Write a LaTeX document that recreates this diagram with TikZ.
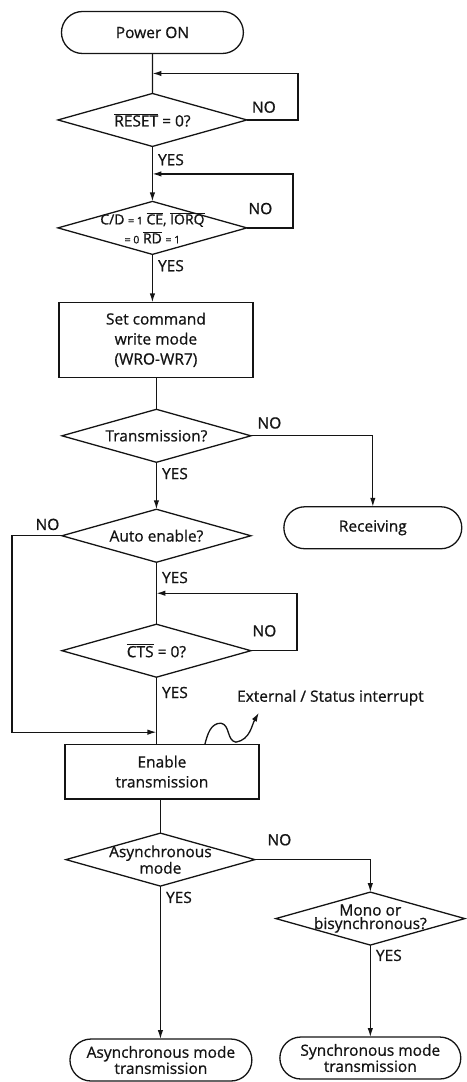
\documentclass[tikz,border=0pt]{standalone}
\usepackage{fontspec}
\setmainfont{Open Sans}[FakeBold=0.8]
\usepackage{tikz}
\usetikzlibrary{arrows.meta,positioning,calc,shapes.geometric,shapes.misc}
\usepackage{xcolor}
\definecolor{ink}{HTML}{141414}
\newcommand{\flowfont}{\fontsize{15.5}{20}\selectfont}
\newcommand{\tightfont}{\fontsize{15.5}{15}\selectfont}
\newcommand{\smallfont}{\fontsize{10.5}{12}\selectfont}
\newcommand{\notsig}[1]{$\overline{\mbox{#1}}$}
\tikzset{
  >={Latex[length=9pt,width=5.5pt]},
  every node/.style={font=\flowfont,text=ink},
  terminal/.style={draw=ink,line width=1.3pt,outer sep=0pt,rounded rectangle,minimum width=186pt,minimum height=42pt,align=center,inner sep=2pt},
  process/.style={draw=ink,line width=1.3pt,outer sep=0pt,minimum width=194pt,align=center,inner sep=3pt},
  decision/.style={draw=ink,line width=1.3pt,outer sep=0pt,diamond,minimum width=189pt,minimum height=53pt,inner sep=0pt},
  dtext/.style={align=center,inner sep=0pt,font=\tightfont},
  lbl/.style={inner sep=2pt},
  flow/.style={draw=ink,line width=1.3pt},
  arrow/.style={->,flow},
}

\begin{document}
\begin{tikzpicture}[node distance=40pt]
\useasboundingbox (0,0) rectangle (467pt,-1082.5pt);

% main column
\node[terminal] (power) at (152.5pt,-32.5pt) {Power ON};
\node[decision,below=40pt of power,
  label={[dtext,name=resetT]center:{\notsig{RESET} = 0?}}] (reset) {};
\node[decision,below=55pt of reset,
  label={[dtext,name=cdT,font=\fontsize{14}{19}\selectfont]center:{C/D {\smallfont = 1} \notsig{CE}, \notsig{IORQ}\\{\smallfont = 0} \notsig{RD} {\smallfont = 1}}}] (cd) {};
\node[process,minimum height=75pt,below=48pt of cd,xshift=3.5pt] (setmode)
{Set command\\write mode\\(WRO-WR7)};
\node[decision,below=32pt of setmode,xshift=0.5pt,
  label={[dtext,name=transT]center:Transmission?}] (trans) {};
\node[terminal,minimum width=182pt,right=33pt of trans,yshift=-92pt] (recv) {Receiving};
\node[decision,below=47pt of trans,
  label={[dtext,name=autoT]center:Auto enable?}] (auto) {};
\node[decision,below=62pt of auto,
  label={[dtext,name=ctsT]center:{\notsig{CTS} = 0?}}] (cts) {};
\node[process,minimum height=55pt,below=67pt of cts,xshift=5.5pt] (enable)
{Enable\\transmission};
\node[lbl,anchor=west] (intr) at ([xshift=-24pt,yshift=46.5pt]enable.north east)
{External / Status interrupt};
\node[decision,below=34pt of enable,xshift=-1.5pt,
  label={[dtext,name=asyncT]center:{Asynchronous\\mode}}] (async) {};
\node[decision,right=21pt of async,yshift=-59pt,
  label={[dtext,name=monoT,font=\fontsize{15.5}{13.5}\selectfont]center:{Mono or\\bisynchronous?}}] (mono) {};
\node[terminal,font=\tightfont,below=153pt of async,xshift=0.5pt] (asyncTx)
{Asynchronous mode\\transmission};
\node[terminal,font=\tightfont,minimum width=185pt,below=92pt of mono] (syncTx)
{Synchronous mode\\transmission};

% loop entry points
\coordinate (resetIn) at ($(power.south)!0.5!(reset.north)$);
\coordinate (cdIn) at ($(reset.south)!0.5!(cd.north)$);
\coordinate (ctsIn) at ($(auto.south)!0.5!(cts.north)$);
\coordinate (enIn) at ($(enable.north -| cts.south)+(0,12pt)$);
\coordinate (irq) at ([xshift=24pt,yshift=-5pt]intr.south west);

% connectors
\draw[flow] (power) -- (reset);
\draw[arrow] (reset.east) node[lbl,anchor=south west,xshift=2.5pt,yshift=4.5pt] (no1) {NO} -- ++(51pt,0) |- (resetIn);
\draw[arrow] (reset) -- node[lbl,pos=0,anchor=north west,xshift=3pt,yshift=-5pt] (yes1) {YES} (cd);
\draw[arrow] (cd.east) node[lbl,anchor=south west,xshift=-1pt,yshift=11pt] (no2) {NO} -- ++(46pt,0) |- (cdIn);
\draw[arrow] (cd.south) -- node[lbl,pos=0,anchor=north west,xshift=3pt,yshift=-3pt] (yes2) {YES} (cd.south |- setmode.north);
\draw[flow] (trans.north |- setmode.south) -- (trans.north);
\draw[arrow] (trans.east) node[lbl,anchor=south west,xshift=4pt,yshift=4.5pt] (no3) {NO} -| (recv.north);
\draw[arrow] (trans) -- node[lbl,pos=0,anchor=north west,xshift=3pt,yshift=-3pt] (yes3) {YES} (auto);
\draw[flow] (auto) -- node[lbl,pos=0,anchor=north west,xshift=3pt,yshift=-7pt] (yes4) {YES} (cts);
\draw[arrow] (auto.west) node[lbl,anchor=south east,yshift=3pt] (no4) {NO} -- ++(-50pt,0) |- (enIn);
\draw[arrow] (cts.east) node[lbl,anchor=south west,xshift=-1pt,yshift=11.5pt] (no5) {NO} -- ++(46pt,0) |- (ctsIn);
\draw[flow] (cts.south) -- node[lbl,pos=0,anchor=north west,xshift=3pt,yshift=-7pt] (yes5) {YES} (cts.south |- enable.north);
\draw[arrow] ([xshift=43pt]enable.north) to[out=75,in=180] ++(16pt,21pt) to[out=-10,in=170] ++(15pt,-19pt) to[out=10,in=240] (irq);
\draw[flow] (async.north |- enable.south) -- (async.north);
\draw[arrow] (async.east) node[lbl,anchor=south west,xshift=10pt,yshift=11.5pt] (no6) {NO} -| (mono.north);
\draw[arrow] (async.south) -- node[lbl,pos=0,anchor=north west,xshift=3pt,yshift=-3pt] (yes6) {YES} (async.south |- asyncTx.north);
\draw[arrow] (mono.south) -- node[lbl,pos=0,anchor=north west,xshift=3pt,yshift=-2pt] (yes7) {YES} (mono.south |- syncTx.north);

\end{tikzpicture}
\end{document}
